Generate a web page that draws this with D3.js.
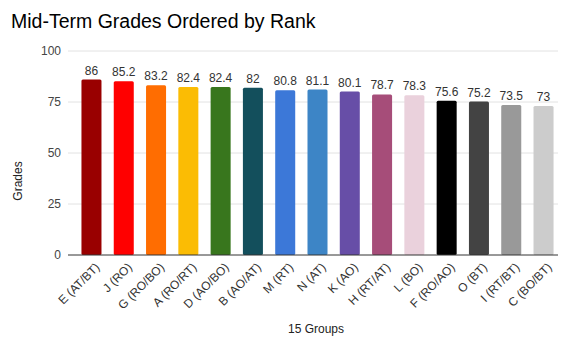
<!DOCTYPE html>
<html>
<head>
<meta charset="utf-8">
<script src="https://cdn.jsdelivr.net/npm/d3@7"></script>
<style>
  html, body { margin: 0; padding: 0; background: #fff; }
  svg { display: block; font-family: Arial, "Liberation Sans", sans-serif; }
</style>
</head>
<body>
<svg id="chart" width="561" height="340"></svg>
<script>
// Groups in rank order, their grades and bar colours
const groups = ["E (AT/BT)", "J (RO)", "G (RO/BO)", "A (RO/RT)", "D (AO/BO)", "B (AO/AT)", "M (RT)", "N (AT)", "K (AO)", "H (RT/AT)", "L (BO)", "F (RO/AO)", "O (BT)", "I (RT/BT)", "C (BO/BT)"];
const grades = [86, 85.2, 83.2, 82.4, 82.4, 82, 80.8, 81.1, 80.1, 78.7, 78.3, 75.6, 75.2, 73.5, 73];
const colors = ["#990000", "#ff0000", "#ff6d01", "#fbbc04", "#38761d", "#134f5c", "#3c78d8", "#3d85c6", "#674ea7", "#a64d79", "#ead1dc", "#000000", "#434343", "#999999", "#cccccc"];
const yTicks = [0, 25, 50, 75, 100];

const svg = d3.select("#chart");

const x = d3.scaleBand()
  .domain(groups)
  .range([75, 560])
  .paddingInner(0.38)
  .paddingOuter(0.2);

const y = d3.scaleLinear()
  .domain([0, 100])
  .range([255, 51]);

const gridLeft = 68, gridRight = 558;

// Title
svg.append("text")
  .attr("x", 11)
  .attr("y", 28)
  .attr("font-size", 19.5)
  .attr("fill", "#000")
  .text("Mid-Term Grades Ordered by Rank");

// Gridlines and y tick labels
const yAxis = svg.append("g");
yAxis.selectAll("line")
  .data(yTicks.filter(t => t !== 0))
  .join("line")
  .attr("x1", gridLeft)
  .attr("x2", gridRight)
  .attr("y1", d => y(d))
  .attr("y2", d => y(d))
  .attr("stroke", "#e2e2e2")
  .attr("stroke-width", 1);

yAxis.selectAll("text")
  .data(yTicks)
  .join("text")
  .attr("x", 61)
  .attr("y", d => y(d))
  .attr("dy", "0.35em")
  .attr("text-anchor", "end")
  .attr("font-size", 12)
  .attr("fill", "#444")
  .text(d => d);

// Bars
svg.append("g")
  .selectAll("rect")
  .data(grades)
  .join("rect")
  .attr("x", (d, i) => x(groups[i]))
  .attr("y", d => y(d))
  .attr("width", x.bandwidth())
  .attr("height", d => y(0) - y(d))
  .attr("rx", 1.5)
  .attr("fill", (d, i) => colors[i]);

// Value labels
svg.append("g")
  .selectAll("text")
  .data(grades)
  .join("text")
  .attr("x", (d, i) => x(groups[i]) + x.bandwidth() / 2)
  .attr("y", d => y(d) - 5)
  .attr("text-anchor", "middle")
  .attr("font-size", 12)
  .attr("fill", "#333")
  .text(d => d);

// Baseline
svg.append("line")
  .attr("x1", gridLeft)
  .attr("x2", gridRight)
  .attr("y1", y(0))
  .attr("y2", y(0))
  .attr("stroke", "#333")
  .attr("stroke-width", 1);

// Category labels, rotated
svg.append("g")
  .selectAll("text")
  .data(groups)
  .join("text")
  .attr("transform", d => `translate(${x(d) + x.bandwidth() / 2 + 6},${y(0) + 10}) rotate(-45)`)
  .attr("text-anchor", "end")
  .attr("dy", "0.35em")
  .attr("font-size", 12)
  .attr("fill", "#333")
  .text(d => d);

// Axis titles
svg.append("text")
  .attr("transform", "translate(22,181) rotate(-90)")
  .attr("text-anchor", "middle")
  .attr("font-size", 12)
  .attr("fill", "#222")
  .text("Grades");

svg.append("text")
  .attr("x", 316)
  .attr("y", 333)
  .attr("text-anchor", "middle")
  .attr("font-size", 12)
  .attr("fill", "#222")
  .text("15 Groups");
</script>
</body>
</html>
